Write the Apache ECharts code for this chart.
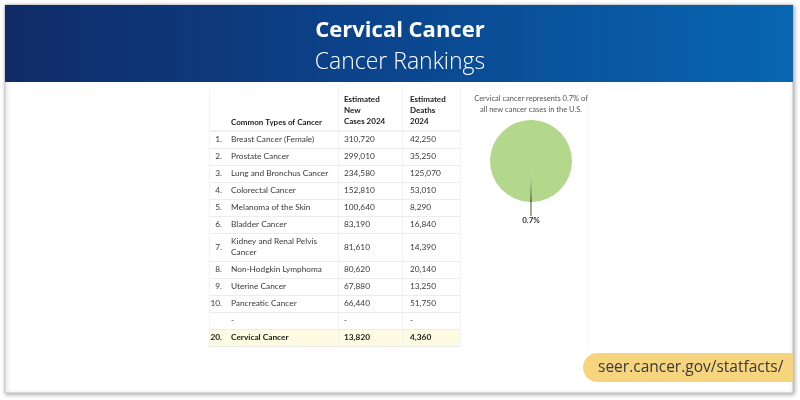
<!DOCTYPE html>
<html>
<head>
<meta charset="utf-8">
<script src="https://cdn.jsdelivr.net/npm/echarts@6/dist/echarts.min.js"></script>
<style>html,body{margin:0;padding:0;background:#fff;}#chart{width:800px;height:400px;}</style>
</head>
<body>
<div id="chart"></div>
<script>
// ---- data ----
const titleText = 'Cervical Cancer';
const subtitleText = 'Cancer Rankings';
const tableHeaders = ['', 'Common Types of Cancer', 'Estimated\nNew\nCases 2024', 'Estimated\nDeaths\n2024'];
const ranks = ['1.', '2.', '3.', '4.', '5.', '6.', '7.', '8.', '9.', '10.', '', '20.'];
const cancerTypes = ['Breast Cancer (Female)', 'Prostate Cancer', 'Lung and Bronchus Cancer', 'Colorectal Cancer',
  'Melanoma of the Skin', 'Bladder Cancer', 'Kidney and Renal Pelvis\nCancer', 'Non-Hodgkin Lymphoma',
  'Uterine Cancer', 'Pancreatic Cancer', '-', 'Cervical Cancer'];
const newCases2024 = [310720, 299010, 234580, 152810, 100640, 83190, 81610, 80620, 67880, 66440, null, 13820];
const deaths2024 = [42250, 35250, 125070, 53010, 8290, 16840, 14390, 20140, 13250, 51750, null, 4360];
const highlightRank = '20.';
const pieCaption = 'Cervical cancer represents 0.7% of\nall new cancer cases in the U.S.';
const pieNames = ['Cervical Cancer', 'Other Cancers'];
const pieValues = [0.7, 99.3];
const sourceText = 'seer.cancer.gov/statfacts/';

// ---- layout ----
const fmt = v => v == null ? '-' : v.toLocaleString('en-US');
const font = 'Lato';
const tblLeft = 209, tblRight = 460, tblTop = 88, headBottom = 131;
const colX = [222, 231, 344, 410];
const colLines = [338, 402];
const baseRowH = 17;
const rowH = cancerTypes.map(n => n.indexOf('\n') >= 0 ? 28 : baseRowH);

const g = [];
// frame
g.push({type: 'rect', shape: {x: 5, y: 5, width: 788, height: 388},
  style: {fill: '#fff', stroke: '#c4c4c4', lineWidth: 1, shadowBlur: 4, shadowColor: 'rgba(0,0,0,0.35)', shadowOffsetX: 1, shadowOffsetY: 1}});
// header band
g.push({type: 'rect', shape: {x: 5, y: 5, width: 788, height: 77},
  style: {fill: new echarts.graphic.LinearGradient(0, 0, 1, 0, [
    {offset: 0, color: '#102b66'}, {offset: 0.5, color: '#0b468f'}, {offset: 1, color: '#0866b1'}])}});
g.push({type: 'text', x: 400, y: 31, style: {text: titleText, fill: '#fff', font: 'bold 22px "Open Sans"', align: 'center', verticalAlign: 'middle'}});
g.push({type: 'text', x: 400, y: 62, style: {text: subtitleText, fill: '#fff', font: '300 23px "Open Sans"', align: 'center', verticalAlign: 'middle'}});

// faint panel line
g.push({type: 'line', shape: {x1: 588, y1: 86, x2: 588, y2: 345}, style: {stroke: '#f3f3f3', lineWidth: 1}});

// table header
const hy = 122;
g.push({type: 'text', x: colX[1], y: hy, style: {text: tableHeaders[1], fill: '#222', font: 'bold 8px ' + font, verticalAlign: 'middle'}});
[2, 3].forEach(c => {
  g.push({type: 'text', x: colX[c], y: hy + 5, style: {text: tableHeaders[c], fill: '#222', font: 'bold 8px ' + font, verticalAlign: 'bottom', lineHeight: 11}});
});
// rows
let y = headBottom;
const rowYs = [];
rowH.forEach(h => { rowYs.push(y); y += h; });
const tblBottom = y;
// highlight bg
rowYs.forEach((ry, i) => {
  if (ranks[i] === highlightRank) {
    g.push({type: 'rect', shape: {x: tblLeft, y: ry, width: tblRight - tblLeft, height: rowH[i]}, style: {fill: '#fdfbe1'}});
  }
});
// grid lines
g.push({type: 'line', shape: {x1: tblLeft, y1: headBottom, x2: tblRight, y2: headBottom}, style: {stroke: '#e2e2e2', lineWidth: 1}});
rowYs.forEach((ry, i) => {
  g.push({type: 'line', shape: {x1: tblLeft, y1: ry + rowH[i] + 0.5, x2: tblRight, y2: ry + rowH[i] + 0.5}, style: {stroke: '#ececec', lineWidth: 1}});
});
colLines.concat([tblLeft, tblRight]).forEach(x => {
  g.push({type: 'line', shape: {x1: x + 0.5, y1: tblTop, x2: x + 0.5, y2: tblBottom}, style: {stroke: '#f2f2f2', lineWidth: 1}});
});
// row text
rowYs.forEach((ry, i) => {
  const cy = ry + rowH[i] / 2;
  const bold = ranks[i] === highlightRank;
  const f = (bold ? 'bold ' : '') + '8.3px ' + font;
  const col = bold ? '#222' : '#3a3a3a';
  g.push({type: 'text', x: colX[0], y: cy, style: {text: ranks[i], fill: col, font: f, align: 'right', verticalAlign: 'middle'}});
  g.push({type: 'text', x: colX[1], y: cy, style: {text: cancerTypes[i], fill: col, font: f, verticalAlign: 'middle', lineHeight: 11}});
  g.push({type: 'text', x: colX[2], y: cy, style: {text: fmt(newCases2024[i]), fill: col, font: f, verticalAlign: 'middle'}});
  g.push({type: 'text', x: colX[3], y: cy, style: {text: fmt(deaths2024[i]), fill: col, font: f, verticalAlign: 'middle'}});
});

// pie caption
g.push({type: 'text', x: 531, y: 104, style: {text: pieCaption, fill: '#555', font: '7.5px ' + font, align: 'center', verticalAlign: 'middle', lineHeight: 11}});

// source badge
g.push({type: 'rect', shape: {x: 583, y: 353, width: 210, height: 29, r: [14.5, 0, 0, 14.5]}, style: {fill: '#f7d47e'}});
g.push({type: 'text', x: 598, y: 368, style: {text: sourceText, fill: '#3a3a3a', font: '15.5px "Open Sans"', verticalAlign: 'middle'}});

const chart = echarts.init(document.getElementById('chart'), null, {renderer: 'canvas'});
const half = pieValues[0] / (pieValues[0] + pieValues[1]) * 180;
chart.setOption({
  animation: false,
  backgroundColor: '#ffffff',
  graphic: {elements: g},
  series: [{
    type: 'pie',
    center: [531, 161],
    radius: [0, 41],
    startAngle: -90 + half,
    clockwise: true,
    z: 10,
    data: pieNames.map((n, i) => ({
      name: n, value: pieValues[i],
      itemStyle: {color: i === 0 ? '#3f5f2a' : '#b3d78b'},
      label: {show: i === 0},
      labelLine: {show: i === 0}
    })),
    label: {position: 'outside', formatter: p => p.value + '%', fontFamily: font, fontWeight: 'bold', fontSize: 8, color: '#333'},
    labelLine: {length: 10, length2: 0, lineStyle: {color: '#3f5f2a', width: 1}},
    labelLayout: p => {
      const pts = p.labelLinePoints;
      const end = pts ? pts[pts.length - 1] : [p.labelRect.x, p.labelRect.y];
      return {x: end[0], y: end[1] + 8, align: 'center', verticalAlign: 'middle'};
    },
    emphasis: {disabled: true}
  }]
});
</script>
</body>
</html>
